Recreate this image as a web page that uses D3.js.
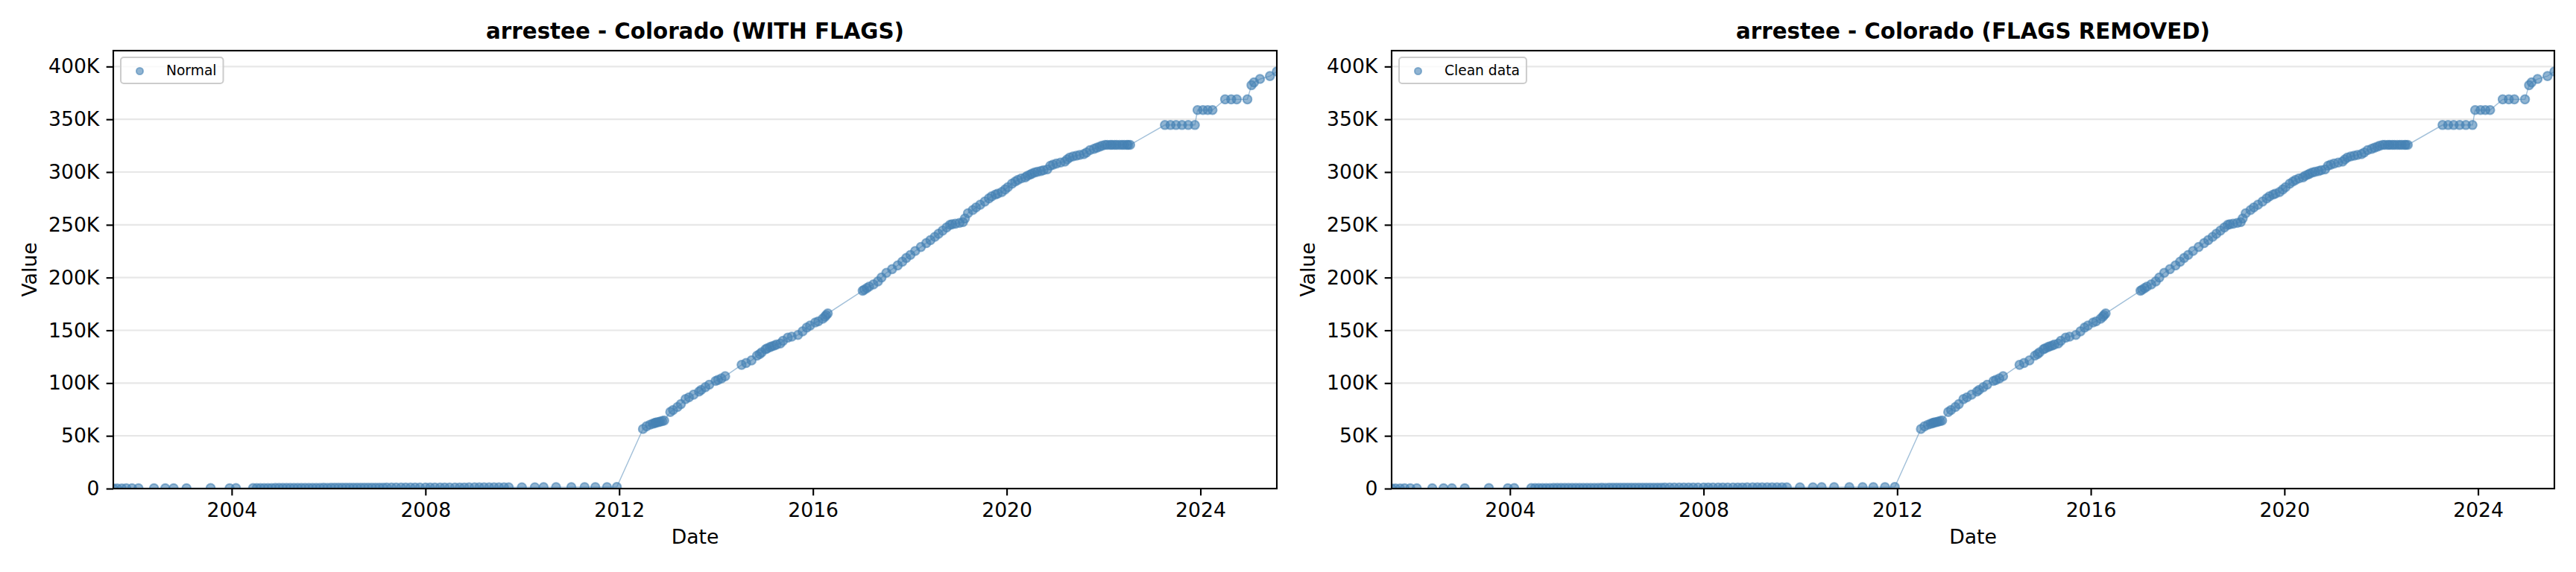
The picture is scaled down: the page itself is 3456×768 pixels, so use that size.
<!DOCTYPE html>
<html>
<head>
<meta charset="utf-8">
<script src="https://cdn.jsdelivr.net/npm/d3@7"></script>
<style>
  html, body { margin: 0; padding: 0; background: #ffffff; }
  svg { display: block; }
  text { font-family: "DejaVu Sans", sans-serif; }
</style>
</head>
<body>
<svg id="chart" width="3456" height="768"></svg>
<script>
// ---------------- DATA ----------------
const panelTitles = ["arrestee - Colorado (WITH FLAGS)", "arrestee - Colorado (FLAGS REMOVED)"];
const legendLabels = ["Normal", "Clean data"];
const yTickValues = [0, 50000, 100000, 150000, 200000, 250000, 300000, 350000, 400000];
const yTickLabels = ["0", "50K", "100K", "150K", "200K", "250K", "300K", "350K", "400K"];

// near-zero period (2001 - 2011)
const earlyDates = [
  "2001-07-22","2001-08-20","2001-09-24","2001-10-28","2001-12-10","2002-01-28","2002-05-25","2002-08-18","2002-10-20","2003-01-25","2003-07-26","2003-12-16","2004-02-02",
  "2004-06-10","2004-07-08","2004-08-05","2004-09-02","2004-09-30","2004-10-28","2004-11-25","2004-12-23",
  "2005-01-20","2005-02-17","2005-03-17","2005-04-14","2005-05-12","2005-06-09","2005-07-07","2005-08-04","2005-09-01","2005-09-29","2005-10-27","2005-11-24","2005-12-22",
  "2006-01-19","2006-02-16","2006-03-16","2006-04-13","2006-05-11","2006-06-08","2006-07-06","2006-08-03","2006-08-31","2006-09-28","2006-10-26","2006-11-23","2006-12-21",
  "2007-01-18","2007-02-15","2007-03-15",
  "2007-04-20","2007-05-25","2007-07-01","2007-08-05","2007-09-10","2007-10-15","2007-11-20","2008-01-01","2008-02-05","2008-03-12","2008-04-20","2008-05-25","2008-07-01","2008-08-10","2008-09-15","2008-10-20","2008-11-25","2009-01-05","2009-02-10","2009-03-18","2009-04-25","2009-06-01","2009-07-08","2009-08-15","2009-09-20",
  "2009-12-28","2010-04-05","2010-06-10","2010-09-12","2011-01-05","2011-04-15","2011-07-05","2011-10-01","2011-12-14"
];
const earlyValues = [
  150,210,180,260,240,300,320,280,350,400,420,380,450,
  500,520,540,510,560,580,600,590,620,640,610,650,670,690,660,700,720,710,740,760,730,770,790,800,780,820,840,810,850,870,860,880,900,890,910,930,950,
  940,960,950,980,1000,990,1010,1030,1020,1050,1060,1040,1080,1100,1090,1110,1130,1120,1150,1160,1140,1180,1200,1190,1210,
  1250,1280,1300,1330,1360,1400,1420,1450,1500
];

// growth period (2012 - 2025)
const growthDates = [
  "2012-06-28","2012-07-25","2012-08-20","2012-09-10","2012-09-25","2012-10-01","2012-10-12","2012-10-25","2012-11-05","2012-11-20","2012-12-05",
  "2013-01-20","2013-02-10","2013-03-15","2013-04-10","2013-05-15","2013-06-10","2013-07-15","2013-08-25","2013-09-10","2013-10-12","2013-11-10","2013-12-28",
  "2014-01-15","2014-02-10","2014-03-10","2014-07-12","2014-08-15","2014-09-25","2014-11-05","2014-11-25","2014-12-10",
  "2015-01-08","2015-01-20","2015-02-10","2015-02-25","2015-03-15","2015-04-01","2015-04-30","2015-05-20","2015-06-25","2015-07-25","2015-09-10","2015-10-15","2015-11-15","2015-12-10",
  "2016-01-18","2016-02-10","2016-03-15","2016-04-01","2016-04-10","2016-04-22",
  "2017-01-10","2017-01-22","2017-02-10","2017-02-28","2017-04-01","2017-05-05","2017-06-01","2017-07-08","2017-08-20","2017-10-01","2017-11-05","2017-12-05",
  "2018-01-05","2018-02-10","2018-03-25","2018-05-05","2018-06-05","2018-07-08","2018-08-05","2018-09-05","2018-10-05","2018-10-30","2018-11-15","2018-12-10",
  "2019-01-10","2019-02-05","2019-02-20","2019-03-15","2019-04-20","2019-05-15","2019-06-15","2019-07-20","2019-08-20","2019-09-10","2019-10-08","2019-10-25","2019-11-25","2019-12-20",
  "2020-01-10","2020-02-10","2020-03-05","2020-03-25","2020-04-20","2020-05-20","2020-06-05","2020-06-25","2020-07-10","2020-07-30","2020-08-20","2020-09-15","2020-10-05","2020-11-02","2020-11-25","2020-12-15",
  "2021-01-10","2021-02-10","2021-03-15","2021-04-01","2021-04-20","2021-05-15","2021-06-10","2021-07-05","2021-08-05","2021-08-25","2021-09-20","2021-10-20","2021-11-10","2021-12-01","2021-12-20",
  "2022-01-12","2022-01-28","2022-02-20","2022-03-05","2022-03-25","2022-04-10","2022-05-01","2022-05-20","2022-06-05","2022-06-25","2022-07-05","2022-07-20",
  "2023-04-08","2023-05-20","2023-07-01","2023-08-15","2023-10-01","2023-11-20",
  "2023-12-10","2024-01-20","2024-02-25","2024-04-01",
  "2024-07-05","2024-08-20","2024-10-01","2024-12-20",
  "2025-01-20","2025-02-08","2025-03-25","2025-06-08","2025-07-30"
];
const growthValues = [
  56500,59000,60500,61500,62000,62500,62800,63000,63500,64000,64500,
  72600,74500,77300,80000,84800,86500,89000,91900,93500,96100,98500,102000,
  103000,104400,106500,117300,119000,121500,126000,127500,129100,
  132000,132800,134000,134800,135500,136500,137500,140000,143000,144000,145600,149000,152600,154500,
  157400,158500,161000,163000,164500,166000,
  187500,188500,190000,191500,193500,196300,200000,204500,208000,211500,215000,218600,
  221500,225200,229000,232700,235500,238600,241500,244500,247500,250000,250500,251000,
  251800,252500,256000,261000,264000,266500,269000,272000,275000,277000,278700,279500,281000,283500,
  285700,289000,291000,292500,294000,295000,296500,297500,298500,299600,300300,301000,301800,302500,306000,307000,
  308000,309000,310000,312000,313800,314800,315500,316200,317000,318500,320800,322000,323000,324000,325000,
  325800,325800,325800,325800,325800,325800,325800,325800,325800,325800,325800,325800,
  344600,344600,344600,344600,344600,344600,
  358800,358800,358800,358800,
  368900,368900,368900,368900,
  382300,385000,388200,391000,395300
];

// ---------------- BUILD ----------------
const parse = d3.timeParse("%Y-%m-%d");
const seriesWith = earlyDates.map((d, i) => ({date: parse(d), value: earlyValues[i]}))
  .concat(growthDates.map((d, i) => ({date: parse(d), value: growthValues[i]})));
const seriesClean = seriesWith.slice();
const panelSeries = [seriesWith, seriesClean];

const svg = d3.select("#chart");
const color = "#4682b4";
const plotTop = 68, plotBottom = 656;
const panelX = [[152, 1713], [1867, 3427]];
const fs = 26.67;

panelSeries.forEach((data, p) => {
  const [left, right] = panelX[p];
  const g = svg.append("g");

  const x = d3.scaleTime().domain(d3.extent(data, d => d.date)).range([left, right]);
  const yMax = d3.max(data, d => d.value);
  const yMin = 0;
  const y = d3.scaleLinear().domain([yMin, yMax + (yMax - yMin) * 0.05]).range([plotBottom, plotTop]);

  const clipId = "clip" + p;
  svg.append("clipPath").attr("id", clipId)
    .append("rect").attr("x", left).attr("y", plotTop).attr("width", right - left).attr("height", plotBottom - plotTop);

  // grid
  g.append("g").selectAll("line").data(yTickValues).join("line")
    .attr("x1", left).attr("x2", right)
    .attr("y1", d => y(d)).attr("y2", d => y(d))
    .attr("stroke", "#b0b0b0").attr("stroke-opacity", 0.3).attr("stroke-width", 2.1);

  const plot = g.append("g").attr("clip-path", `url(#${clipId})`);
  plot.append("path").datum(data)
    .attr("d", d3.line().x(d => x(d.date)).y(d => y(d.value)))
    .attr("fill", "none").attr("stroke", color).attr("stroke-opacity", 0.5).attr("stroke-width", 1.4);

  plot.append("g").selectAll("circle").data(data).join("circle")
    .attr("cx", d => x(d.date)).attr("cy", d => y(d.value)).attr("r", 5.8)
    .attr("fill", color).attr("fill-opacity", 0.6)
    .attr("stroke", color).attr("stroke-opacity", 0.6).attr("stroke-width", 2);

  // axes
  const yAxis = d3.axisLeft(y).tickValues(yTickValues)
    .tickFormat((d, i) => yTickLabels[i]).tickSize(9.33).tickPadding(9.33);
  const ya = g.append("g").attr("transform", `translate(${left},0)`).call(yAxis);
  const xAxis = d3.axisBottom(x).ticks(d3.timeYear.every(4)).tickFormat(d3.timeFormat("%Y"))
    .tickSize(9.33).tickPadding(9.33);
  const xa = g.append("g").attr("transform", `translate(0,${plotBottom})`).call(xAxis);
  [ya, xa].forEach(a => {
    a.select(".domain").remove();
    a.selectAll(".tick line").attr("stroke", "#000").attr("stroke-width", 2.13);
    a.selectAll(".tick text").attr("fill", "#000").style("font-size", fs + "px").style("font-family", "DejaVu Sans");
  });

  // frame
  g.append("rect").attr("x", left).attr("y", plotTop).attr("width", right - left).attr("height", plotBottom - plotTop)
    .attr("fill", "none").attr("stroke", "#000").attr("stroke-width", 2.13);

  // title
  g.append("text").attr("x", (left + right) / 2).attr("y", 52).attr("text-anchor", "middle")
    .style("font-size", "29.3px").style("font-weight", "bold").text(panelTitles[p]);

  // axis labels
  g.append("text").attr("x", (left + right) / 2).attr("y", 730).attr("text-anchor", "middle")
    .style("font-size", fs + "px").text("Date");
  g.append("text").attr("transform", `translate(${left - 103},${(plotTop + plotBottom) / 2}) rotate(-90)`)
    .attr("text-anchor", "middle").style("font-size", fs + "px").text("Value");

  // legend
  const lg = g.append("g");
  const box = lg.append("rect").attr("x", left + 10).attr("y", 77).attr("height", 35).attr("rx", 4)
    .attr("fill", "#fff").attr("fill-opacity", 0.8).attr("stroke", "#cccccc").attr("stroke-width", 2);
  lg.append("circle").attr("cx", left + 35.5).attr("cy", 95.5).attr("r", 4.6)
    .attr("fill", color).attr("fill-opacity", 0.6).attr("stroke", color).attr("stroke-opacity", 0.6).attr("stroke-width", 1.8);
  const lt = lg.append("text").attr("x", left + 71).attr("y", 100.5)
    .style("font-size", "18.67px").text(legendLabels[p]);
  const tw = lt.node().getComputedTextLength();
  box.attr("width", 71 + tw + 9 - 10);
});
</script>
</body>
</html>
